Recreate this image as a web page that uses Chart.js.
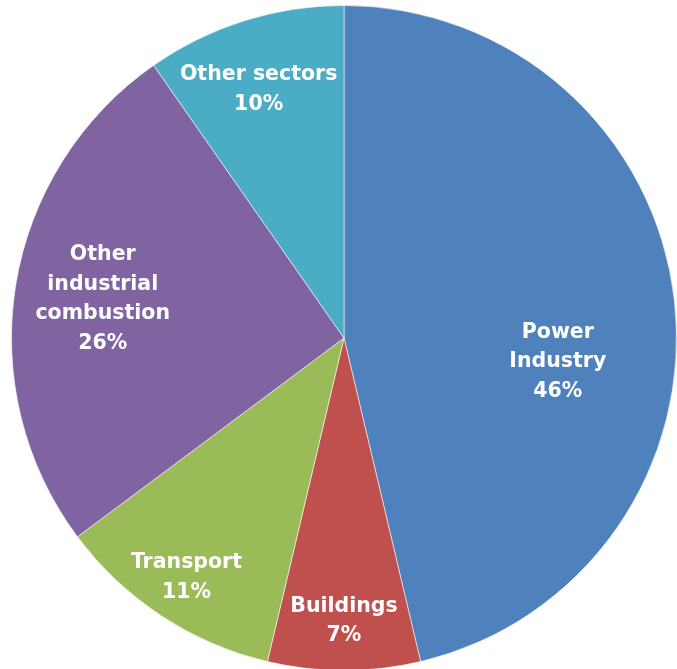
<!DOCTYPE html>
<html>
<head>
<meta charset="utf-8">
<script src="https://cdn.jsdelivr.net/npm/chart.js@4"></script>
<style>
  html, body { margin: 0; padding: 0; background: #ffffff; overflow: hidden; }
  #wrap { position: relative; width: 677px; height: 672px; }
</style>
</head>
<body>
<div id="wrap"><canvas id="c"></canvas></div>
<script>
// Data
const categories = ["Power Industry", "Buildings", "Transport", "Other industrial combustion", "Other sectors"];
const shares = [46.3, 7.4, 11.1, 25.5, 9.7];
const percentLabels = ["46%", "7%", "11%", "26%", "10%"];
const labelLines = [["Power", "Industry"], ["Buildings"], ["Transport"], ["Other", "industrial", "combustion"], ["Other sectors"]];

const colors = ["#4F81BD", "#C0504D", "#9BBB59", "#8064A2", "#4BACC6"];

const sliceLabels = {
  id: "sliceLabels",
  afterDatasetsDraw(chart, args, opts) {
    const ctx = chart.ctx;
    const meta = chart.getDatasetMeta(0);
    ctx.save();
    ctx.fillStyle = "#ffffff";
    ctx.font = opts.font;
    ctx.textAlign = "center";
    ctx.textBaseline = "middle";
    meta.data.forEach((arc, i) => {
      const p = arc.getProps(["x", "y", "startAngle", "endAngle", "outerRadius"], true);
      const mid = (p.startAngle + p.endAngle) / 2 + opts.angleOffsets[i] * Math.PI / 180;
      const r = p.outerRadius * opts.radialFractions[i];
      const cx = p.x + Math.cos(mid) * r;
      const cy = p.y + Math.sin(mid) * r;
      const lines = labelLines[i].concat([percentLabels[i]]);
      const lh = opts.lineHeight;
      const top = cy - (lines.length - 1) * lh / 2;
      lines.forEach((t, k) => ctx.fillText(t, cx, top + k * lh));
    });
    ctx.restore();
  }
};

new Chart(document.getElementById("c"), {
  type: "pie",
  data: {
    labels: categories,
    datasets: [{
      data: shares,
      backgroundColor: colors,
      borderColor: "rgba(255,255,255,0.55)",
      borderWidth: 1
    }]
  },
  options: {
    responsive: true,
    maintainAspectRatio: false,
    animation: false,
    layout: { padding: { left: 11, right: 0, top: 5, bottom: 1 } },
    plugins: {
      legend: { display: false },
      tooltip: { enabled: false },
      sliceLabels: {
        font: "bold 20.5px 'DejaVu Sans'",
        lineHeight: 29.5,
        angleOffsets: [13, 0, 0, 0, -1.5],
        radialFractions: [0.647, 0.851, 0.863, 0.735, 0.79]
      }
    }
  },
  plugins: [sliceLabels]
});
</script>
</body>
</html>
